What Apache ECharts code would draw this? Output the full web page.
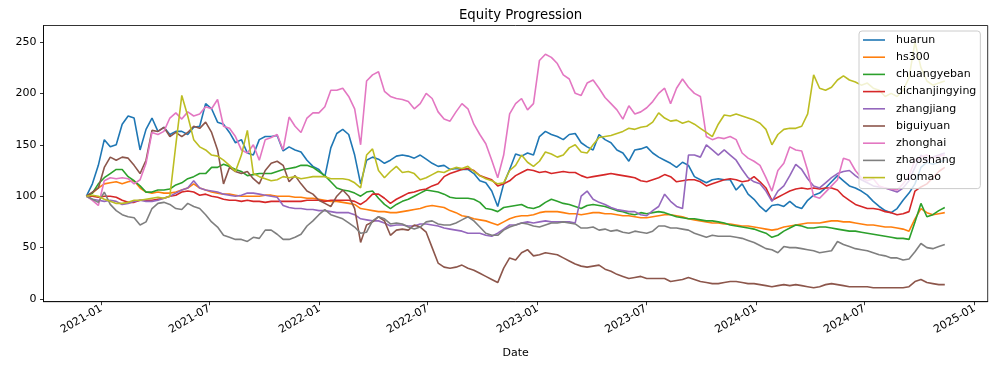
<!DOCTYPE html>
<html>
<head>
<meta charset="utf-8">
<script src="https://cdn.jsdelivr.net/npm/echarts@6/dist/echarts.min.js"></script>
<style>
html,body{margin:0;padding:0;background:#fff;}
#chart{width:998px;height:367px;}
</style>
</head>
<body>
<div id="chart"></div>
<script>
// Sampling grid: ~10-day steps from 2020-12-07 to 2024-11-12
const DAY = 86400000;
const START = Date.UTC(2020, 11, 7);
const STEP_DAYS = 1436 / 144;
const N = 145;

const seriesNames = ['huarun','hs300','chuangyeban','dichanjingying','zhangjiang','biguiyuan','zhonghai','zhaoshang','guomao'];
const colors = ['#1f77b4','#ff7f0e','#2ca02c','#d62728','#9467bd','#8c564b','#e377c2','#7f7f7f','#bcbd22'];

const huarun = [
100,112,130,155,148,150,170,178,176,145, 165,176,163,167,160,163,163,160,167,168, 190,185,172,170,162,152,155,142,140,155, 158,
158,159,144,148,145,143,135,129,126,119, 147,161,165,160,140,112,135,138,136,132, 135,139,140,139,137,140,136,132,129,130, 126,127,126,126,122,115,113,105,90,
112,126,141,139,142,140,158,163,160,158, 155,160,161,152,148,145,160,155,152,145, 142,134,145,146,148,142,138,135,132,128, 133,130,119,116,113,116,117,116,
116,106,112,102,97,90,85,91,92,90, 95,90,88,96,101,103,108,114,120,115, 110,108,105,101,95,90,86,84,88,96, 103,112,128,133,131,133,135];

const hs300 = [
100,103,108,112,113,114,112,114,115,108, 104,103,104,103,103,104,106,108,112,108, 106,104,103,102,102,101,100,100,100,100, 101,
101,100,100,100,99,99,98,98,97,96, 95,95,94,93,92,88,87,86,85,85, 84,84,85,86,87,88,90,91,90,89, 86,84,81,80,78,77,76,74,72,
75,78,80,81,81,82,84,85,85,85, 84,83,83,82,83,84,84,83,83,82, 81,81,80,79,79,80,81,82,82,81, 80,78,77,76,75,74,74,73,
73,72,71,71,70,69,68,67,68,70, 71,72,73,74,74,74,75,76,76,75, 75,74,73,72,72,71,70,70,69,68, 66,78,88,84,82,83,84];

const chuangyeban = [
100,103,112,118,122,126,126,119,115,110, 104,104,106,106,107,111,113,117,119,122, 122,128,128,131,129,126,124,120,121,122, 122,
122,124,126,127,128,130,130,128,124,120, 114,108,106,105,103,100,104,105,98,92, 88,92,95,97,100,103,106,105,104,102, 99,98,98,98,97,94,88,87,85,
89,90,91,92,89,88,90,94,97,95, 93,92,90,88,91,92,91,90,88,86, 85,83,82,84,83,84,85,84,82,80, 79,78,78,77,76,76,75,74,
72,71,70,69,68,66,64,60,62,66, 69,72,71,69,69,70,70,69,68,67, 66,66,65,64,63,62,61,60,59,59, 58,75,93,80,82,86,89];

const dichanjingying = [
100,100,99,100,100,99,96,94,94,96, 96,96,97,98,100,101,104,105,104,101, 102,100,99,97,96,96,95,96,95,95, 94,
95,95,95,95,95,95,96,96,96,95, 96,96,96,96,95,92,96,102,102,98, 93,97,100,103,104,106,107,110,112,119, 122,124,126,127,125,120,118,116,110,
112,115,120,123,126,125,123,124,122,123, 124,123,123,120,118,119,120,121,122,121, 120,119,118,115,114,116,118,121,119,114, 115,116,116,114,110,112,114,116,
117,116,114,115,119,114,108,96,99,102, 105,107,108,107,108,107,108,108,106,100, 96,92,90,88,88,87,85,84,82,83, 85,105,109,112,118,124,128];

const zhangjiang = [
100,97,96,95,96,95,92,93,95,96, 95,95,96,98,100,103,106,108,115,108, 106,105,104,102,101,100,101,103,103,102, 101,
100,99,91,89,88,88,87,87,86,86, 85,84,84,84,82,78,77,76,76,74, 71,72,72,71,71,73,73,72,71,69, 68,67,66,64,64,64,62,61,64,
68,72,72,74,75,74,75,76,75,75, 75,75,74,100,105,97,94,92,89,87, 86,85,85,82,81,86,90,102,95,90, 88,140,140,138,150,145,140,145,
140,135,126,118,114,112,105,95,105,110, 120,131,126,117,110,108,113,118,122,124, 125,120,116,113,110,109,108,106,104,108, 115,128,140,135,138,140,142];

const biguiyuan = [
100,104,108,128,138,135,138,137,130,122, 135,164,163,167,158,162,158,162,168,166, 172,162,145,112,128,124,122,124,117,112, 125,
132,134,130,114,120,112,105,102,96,93, 90,100,106,100,88,55,72,75,80,76, 62,67,68,67,72,70,65,50,35,31, 30,31,33,30,28,25,22,19,16,
30,40,38,45,48,42,43,45,44,43, 40,37,34,32,31,32,33,29,27,24, 22,20,21,22,20,20,20,20,17,18, 19,21,19,17,16,15,15,16,
17,17,16,15,15,14,13,12,13,14, 13,14,13,12,11,12,14,15,14,13, 12,12,12,12,11,11,11,11,11,11, 12,17,19,16,15,14,14];

const zhonghai = [
100,96,91,115,118,117,118,117,112,116, 132,162,160,163,176,181,175,182,178,180, 187,185,194,168,166,158,145,142,150,135, 155,
157,160,145,177,168,162,176,181,181,187, 203,203,205,197,185,150,212,218,221,202, 197,195,194,192,185,190,200,195,182,175, 173,182,190,185,170,160,151,135,118,
140,180,190,195,184,190,232,238,235,229, 218,214,200,198,210,213,205,196,190,184, 175,188,180,182,186,192,200,205,190,205, 214,206,200,197,158,155,157,156,
158,155,142,137,134,130,118,105,125,132, 148,145,144,125,100,98,104,110,116,137, 135,125,118,115,117,110,108,107,106,112, 120,135,138,140,137,139,140];

const zhaoshang = [
100,97,94,104,92,86,82,80,79,72, 75,88,93,94,92,88,87,93,90,88, 82,75,70,62,60,58,58,56,60,59, 67,
67,63,58,58,60,63,71,76,82,87, 82,80,78,74,70,64,65,76,80,78, 73,74,73,70,68,70,75,76,73,72, 72,74,77,80,76,70,64,62,62,
67,70,72,74,73,71,70,72,74,74, 75,74,73,69,69,70,67,68,66,67, 65,64,66,65,64,66,71,71,69,69, 68,67,64,62,60,62,61,61,
61,60,59,57,55,52,49,48,45,51, 50,50,49,48,47,45,46,47,56,53, 51,49,48,47,45,43,42,40,40,38, 39,46,54,50,49,51,53];

const guomao = [
100,101,100,97,95,93,93,94,96,96, 97,98,99,98,100,150,198,178,155,148, 145,140,139,135,130,124,140,164,122,119, 117,
115,116,119,118,119,117,118,119,119,119, 117,117,117,116,113,108,140,146,125,118, 124,129,123,124,122,116,118,121,124,123, 126,128,127,129,124,120,117,115,112,
113,125,130,140,133,129,134,143,141,138, 140,147,150,143,142,150,157,158,159,161, 163,166,165,167,168,172,181,176,173,174, 171,173,170,166,162,158,170,179,
178,180,178,176,174,171,165,150,160,165, 166,166,168,180,218,205,203,206,213,217, 213,211,208,210,205,203,197,200,197,203, 215,250,225,212,208,210,212];

const yTicks = [0, 50, 100, 150, 200, 250];
const xTickLabels = ['2021-01','2021-07','2022-01','2022-07','2023-01','2023-07','2024-01','2024-07','2025-01'];

const allValues = [huarun, hs300, chuangyeban, dichanjingying, zhangjiang, biguiyuan, zhonghai, zhaoshang, guomao];

const dates = [];
for (let i = 0; i < N; i++) dates.push(START + i * STEP_DAYS * DAY);
const xTickValues = xTickLabels.map(s => Date.UTC(+s.slice(0,4), +s.slice(5,7) - 1, 1));
const REF = Date.UTC(2021, 0, 1);

const FONT = 'DejaVu Sans';
const chart = echarts.init(document.getElementById('chart'), null, {renderer: 'canvas'});
chart.setOption({
  animation: false,
  backgroundColor: '#ffffff',
  title: {
    text: 'Equity Progression',
    left: 515.6, top: 4, textAlign: 'center',
    textStyle: {fontFamily: FONT, fontSize: 13.3, fontWeight: 'normal', color: '#000'}
  },
  grid: {left: 43.5, right: 10.3, top: 25.5, bottom: 65.3, show: true, borderColor: '#000', borderWidth: 0.8, backgroundColor: 'transparent'},
  legend: {
    orient: 'vertical',
    left: 859, top: 31,
    data: seriesNames,
    icon: 'path://M0,0H22V1.6H0Z',
    itemWidth: 22, itemHeight: 14, itemGap: 3.2,
    padding: [2, 4, 4, 4],
    backgroundColor: 'rgba(255,255,255,0.8)',
    borderColor: '#cccccc', borderWidth: 1, borderRadius: 3,
    textStyle: {fontFamily: FONT, fontSize: 11, color: '#000', padding: [0, 0, 0, 6], lineHeight: 14}
  },
  xAxis: {
    type: 'value',
    min: REF - 96.8 * DAY,
    max: REF + 1482.8 * DAY,
    name: 'Date', nameLocation: 'middle', nameGap: 51,
    nameTextStyle: {fontFamily: FONT, fontSize: 11, color: '#000', verticalAlign: 'middle'},
    axisLine: {show: true, onZero: false, lineStyle: {color: '#000', width: 0.8}},
    axisTick: {show: true, length: 3.5, lineStyle: {color: '#000', width: 0.8}, customValues: xTickValues},
    axisLabel: {
      show: true, rotate: 30, margin: 6, customValues: xTickValues,
      fontFamily: FONT, fontSize: 11, color: '#000',
      formatter: function (v) { const d = new Date(v); return d.getUTCFullYear() + '-' + String(d.getUTCMonth() + 1).padStart(2, '0'); }
    },
    splitLine: {show: false}
  },
  yAxis: {
    type: 'value',
    min: -2.6, max: 266,
    axisLine: {show: true, lineStyle: {color: '#000', width: 0.8}},
    axisTick: {show: true, length: 3.5, lineStyle: {color: '#000', width: 0.8}, customValues: yTicks},
    axisLabel: {show: true, margin: 7, customValues: yTicks, fontFamily: FONT, fontSize: 11, color: '#000'},
    splitLine: {show: false}
  },
  series: seriesNames.map((name, k) => ({
    name: name,
    type: 'line',
    symbol: 'none',
    showSymbol: false,
    color: colors[k],
    lineStyle: {color: colors[k], width: 1.6},
    data: dates.map((d, i) => [d, allValues[k][i]])
  }))
});
</script>
</body>
</html>
